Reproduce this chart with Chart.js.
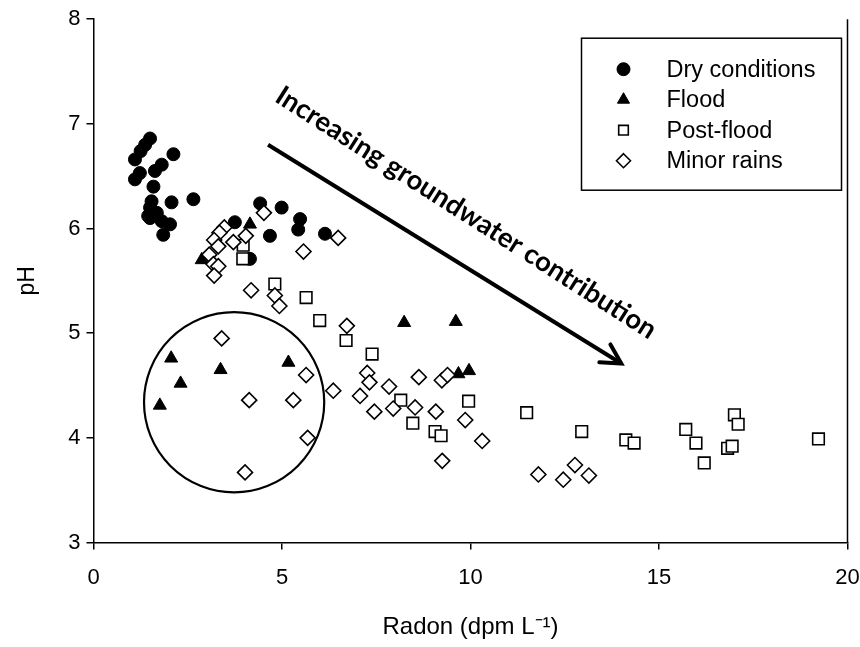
<!DOCTYPE html>
<html lang="en">
<head>
  <meta charset="UTF-8">
  <title>pH vs Radon</title>
  <script src="https://cdn.jsdelivr.net/npm/chart.js"></script>
  <style>
    body { margin: 0; background: #fff; }
    canvas { display: block; }
  </style>
</head>
<body>
  <canvas id="grafico" width="860" height="647"></canvas>
  <script>
    // Radon (dpm/L) and pH
    const dryX = [1.50, 1.37, 1.25, 1.10, 2.12, 1.81, 1.10, 1.23, 1.63, 1.59, 1.54, 2.65, 2.07, 1.50, 1.50, 1.68, 2.03, 1.85, 1.81, 1.45,
                  3.75, 4.42, 4.99, 5.48, 4.68, 5.43, 6.14, 4.15];
    const dryY = [6.86, 6.80, 6.74, 6.66, 6.71, 6.61, 6.47, 6.53, 6.55, 6.40, 6.26, 6.28, 6.25, 6.20, 6.10, 6.15, 6.04, 5.94, 6.07, 6.12,
                  6.06, 6.24, 6.20, 6.09, 5.93, 5.99, 5.95, 5.71];

    const floodX = [2.87, 4.15, 2.06, 2.31, 1.76, 3.37, 5.17, 8.24, 9.61, 9.68, 9.96];
    const floodY = [5.70, 6.04, 4.76, 4.52, 4.31, 4.65, 4.72, 5.10, 5.11, 4.61, 4.64];

    const postX = [3.97, 3.96, 4.81, 5.64, 6.00, 6.70, 7.39, 8.15, 8.47, 9.06, 9.22, 9.95, 11.49, 12.95,
                   14.12, 14.34, 15.71, 15.98, 16.20, 17.00, 17.10, 16.82, 16.94, 19.23];
    const postY = [5.84, 5.71, 5.47, 5.34, 5.12, 4.93, 4.80, 4.36, 4.14, 4.06, 4.02, 4.35, 4.24, 4.06,
                   3.98, 3.95, 4.08, 3.95, 3.76, 4.22, 4.13, 3.90, 3.92, 3.99];

    const minorX = [4.52, 6.49, 5.57, 3.47, 3.34, 3.20, 3.71, 4.04, 3.31, 3.07, 3.18, 3.31, 3.20, 4.18, 4.81, 4.93, 6.72,
                    3.40, 4.13, 5.30, 5.64, 6.36, 7.07, 5.68, 4.02, 7.26, 7.32, 7.84, 7.45, 7.95, 8.53, 8.63, 9.24, 9.39,
                    9.08, 9.86, 10.31, 9.25, 11.80, 12.46, 12.77, 13.14];
    const minorY = [6.15, 5.91, 5.78, 6.01, 5.96, 5.89, 5.87, 5.93, 5.83, 5.75, 5.66, 5.64, 5.55, 5.41, 5.36, 5.26, 5.07,
                    4.95, 4.36, 4.36, 4.60, 4.45, 4.40, 4.00, 3.67, 4.62, 4.53, 4.49, 4.25, 4.28, 4.29, 4.58, 4.55, 4.60,
                    4.25, 4.17, 3.97, 3.78, 3.65, 3.60, 3.74, 3.64];

    const seriesNames = ['Dry conditions', 'Flood', 'Post-flood', 'Minor rains'];

    // annotations (data coordinates)
    const circleCenter = [3.73, 4.34];
    const circleRadiusX = 2.39;
    const arrowFrom = [4.63, 6.80];
    const arrowTo = [14.0, 4.71];
    const arrowText = 'Increasing groundwater contribution';
    const arrowTextAt = [9.88, 6.15];

    const pts = (xs, ys) => xs.map((x, i) => ({ x, y: ys[i] }));

    const styles = [
      { pointStyle: 'circle', pointRadius: 6.5, backgroundColor: '#000', borderColor: '#000', borderWidth: 1 },
      { pointStyle: 'triangle', pointRadius: 7.5, backgroundColor: '#000', borderColor: '#000', borderWidth: 1 },
      { pointStyle: 'rect', pointRadius: 8.2, backgroundColor: '#fff', borderColor: '#000', borderWidth: 1.6 },
      { pointStyle: 'rectRot', pointRadius: 7.5, backgroundColor: '#fff', borderColor: '#000', borderWidth: 1.6 }
    ];
    const dataXY = [pts(dryX, dryY), pts(floodX, floodY), pts(postX, postY), pts(minorX, minorY)];

    const datasets = seriesNames.map((name, i) => Object.assign({
      label: name,
      data: dataXY[i],
      showLine: false,
      pointHoverRadius: styles[i].pointRadius
    }, styles[i])).reverse();

    function drawMark(ctx, style, x, y, r) {
      ctx.beginPath();
      if (style === 'circle') {
        ctx.arc(x, y, r, 0, Math.PI * 2);
      } else if (style === 'triangle') {
        ctx.moveTo(x, y - r);
        ctx.lineTo(x + r * 0.866, y + r * 0.5);
        ctx.lineTo(x - r * 0.866, y + r * 0.5);
      } else if (style === 'rect') {
        const s = r * Math.SQRT1_2;
        ctx.rect(x - s, y - s, 2 * s, 2 * s);
      } else {
        ctx.moveTo(x, y - r); ctx.lineTo(x + r, y); ctx.lineTo(x, y + r); ctx.lineTo(x - r, y);
      }
      ctx.closePath();
    }

    const extras = {
      id: 'extras',
      afterDraw(chart) {
        const { ctx, chartArea: a, scales: { x, y } } = chart;
        ctx.save();
        // right frame line
        ctx.strokeStyle = '#000';
        ctx.lineWidth = 1.5;
        ctx.beginPath();
        ctx.moveTo(a.right, a.top);
        ctx.lineTo(a.right, a.bottom);
        ctx.stroke();

        // circle
        const cx = x.getPixelForValue(circleCenter[0]);
        const cy = y.getPixelForValue(circleCenter[1]);
        const r = x.getPixelForValue(circleCenter[0] + circleRadiusX) - cx;
        ctx.lineWidth = 2.2;
        ctx.beginPath();
        ctx.arc(cx, cy, r, 0, Math.PI * 2);
        ctx.stroke();

        // arrow
        const x1 = x.getPixelForValue(arrowFrom[0]), y1 = y.getPixelForValue(arrowFrom[1]);
        const x2 = x.getPixelForValue(arrowTo[0]), y2 = y.getPixelForValue(arrowTo[1]);
        const ang = Math.atan2(y2 - y1, x2 - x1);
        ctx.lineWidth = 4;
        ctx.beginPath();
        ctx.moveTo(x1, y1);
        ctx.lineTo(x2, y2);
        ctx.stroke();
        ctx.lineCap = 'round';
        ctx.beginPath();
        ctx.moveTo(x2 - 22 * Math.cos(ang - 0.5), y2 - 22 * Math.sin(ang - 0.5));
        ctx.lineTo(x2, y2);
        ctx.lineTo(x2 - 22 * Math.cos(ang + 0.5), y2 - 22 * Math.sin(ang + 0.5));
        ctx.stroke();

        // arrow label
        const tx = x.getPixelForValue(arrowTextAt[0]), ty = y.getPixelForValue(arrowTextAt[1]);
        ctx.font = 'bold 20px Lato';
        const w = ctx.measureText(arrowText).width;
        const size = 20 * 445 / w;
        ctx.font = 'bold ' + size.toFixed(1) + 'px Lato';
        ctx.translate(tx, ty);
        ctx.rotate(ang + 0.012);
        ctx.fillStyle = '#000';
        ctx.textAlign = 'center';
        ctx.textBaseline = 'middle';
        ctx.fillText(arrowText, 0, 0);
        ctx.restore();

        // legend box
        ctx.save();
        const bw = 260, bh = 152;
        const bx = a.right - 6 - bw, by = a.top + 19;
        ctx.fillStyle = '#fff';
        ctx.fillRect(bx, by, bw, bh);
        ctx.strokeStyle = '#000';
        ctx.lineWidth = 1.5;
        ctx.strokeRect(bx, by, bw, bh);
        const legendSize = [6.5, 7, 6.8, 7];
        seriesNames.forEach((name, i) => {
          const ry = by + 31 + i * 30.5;
          const st = styles[i];
          drawMark(ctx, st.pointStyle, bx + 42, ry, legendSize[i]);
          ctx.fillStyle = st.backgroundColor;
          ctx.fill();
          ctx.lineWidth = st.borderWidth;
          ctx.strokeStyle = '#000';
          ctx.stroke();
          ctx.font = '23.5px "Liberation Sans"';
          ctx.textBaseline = 'middle';
          ctx.textAlign = 'left';
          ctx.fillStyle = '#000';
          ctx.fillText(name, bx + 85, ry + 1);
        });
        ctx.restore();
      }
    };

    const tickFont = { family: 'Liberation Sans', size: 22 };
    const ctx = document.getElementById('grafico').getContext('2d');
    new Chart(ctx, {
      type: 'scatter',
      data: { datasets },
      options: {
        responsive: false,
        animation: false,
        devicePixelRatio: 1,
        layout: { padding: { top: 17.5, right: 0, left: 0, bottom: 0 } },
        plugins: { legend: { display: false }, tooltip: { enabled: false } },
        scales: {
          x: {
            type: 'linear',
            min: 0, max: 20,
            ticks: { stepSize: 5, color: '#000', font: tickFont, padding: 15 },
            grid: { drawOnChartArea: false, drawTicks: true, tickLength: 7, color: '#000', lineWidth: 1.5 },
            border: { display: true, color: '#000', width: 1.5 },
            title: { display: true, text: 'Radon (dpm L⁻¹)', color: '#000', font: { family: 'Liberation Sans', size: 24 }, padding: { top: 0, bottom: 5 } },
            afterFit(s) { s.height = 104.5; s.paddingRight = 12.5; }
          },
          y: {
            type: 'linear',
            min: 3, max: 8,
            ticks: { stepSize: 1, color: '#000', font: tickFont, padding: 6 },
            grid: { drawOnChartArea: false, drawTicks: true, tickLength: 7, color: '#000', lineWidth: 1.5 },
            border: { display: true, color: '#000', width: 1.5 },
            title: { display: true, text: 'pH', color: '#000', font: { family: 'Liberation Sans', size: 23 }, padding: { top: 14, bottom: 0 } },
            afterFit(s) { s.width = 93.5; }
          }
        }
      },
      plugins: [extras]
    });
  </script>
</body>
</html>
